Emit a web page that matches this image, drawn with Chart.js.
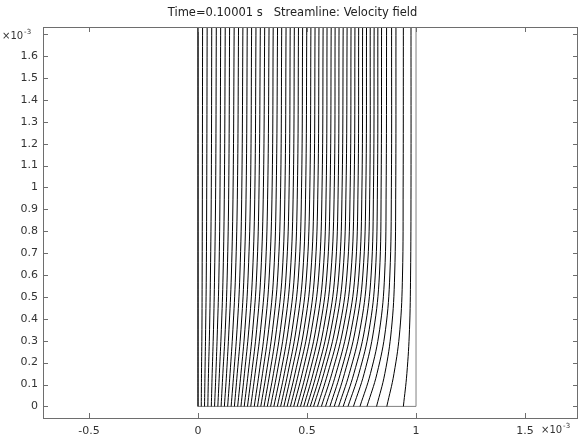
<!DOCTYPE html>
<html>
<head>
<meta charset="utf-8">
<script src="https://cdn.jsdelivr.net/npm/chart.js@4/dist/chart.umd.min.js"></script>
<style>
  html, body { margin: 0; padding: 0; background: #fff; }
  #wrap { width: 585px; height: 434px; }
</style>
</head>
<body>
<div id="wrap"><canvas id="chart" width="585" height="434"></canvas></div>
<script>
// all lengths in units of 1e-3
const levelY = [0, 0.15, 0.35, 0.6, 1.0, 1.75];

const xAtBottom = [0, 0.015, 0.030, 0.045, 0.061, 0.076, 0.091, 0.106, 0.121, 0.136, 0.152, 0.167, 0.182, 0.197, 0.212, 0.227, 0.242, 0.258, 0.273, 0.288, 0.303, 0.318, 0.333, 0.348, 0.364, 0.379, 0.394, 0.409, 0.424, 0.439, 0.455, 0.470, 0.485, 0.500, 0.515, 0.530, 0.548, 0.566, 0.585, 0.605, 0.625, 0.645, 0.666, 0.688, 0.713, 0.743, 0.775, 0.819, 0.866, 0.942];
const xAt015 = [0, 0.016, 0.032, 0.048, 0.065, 0.082, 0.098, 0.114, 0.131, 0.147, 0.164, 0.180, 0.197, 0.213, 0.230, 0.246, 0.262, 0.280, 0.296, 0.313, 0.329, 0.346, 0.362, 0.379, 0.396, 0.412, 0.428, 0.445, 0.461, 0.478, 0.495, 0.511, 0.528, 0.544, 0.561, 0.577, 0.595, 0.614, 0.633, 0.653, 0.672, 0.694, 0.715, 0.738, 0.762, 0.791, 0.821, 0.857, 0.899, 0.958];
const xAt035 = [0, 0.018, 0.035, 0.053, 0.071, 0.089, 0.107, 0.125, 0.142, 0.160, 0.179, 0.197, 0.215, 0.233, 0.251, 0.269, 0.287, 0.306, 0.324, 0.342, 0.360, 0.378, 0.396, 0.414, 0.432, 0.450, 0.468, 0.486, 0.504, 0.521, 0.540, 0.557, 0.575, 0.593, 0.610, 0.628, 0.647, 0.665, 0.684, 0.703, 0.722, 0.743, 0.764, 0.785, 0.806, 0.833, 0.860, 0.887, 0.926, 0.970];
const xAt060 = [0, 0.019, 0.038, 0.057, 0.076, 0.096, 0.115, 0.134, 0.153, 0.172, 0.192, 0.211, 0.230, 0.250, 0.269, 0.288, 0.308, 0.327, 0.347, 0.366, 0.386, 0.404, 0.423, 0.442, 0.461, 0.480, 0.498, 0.517, 0.535, 0.554, 0.573, 0.591, 0.609, 0.628, 0.646, 0.664, 0.683, 0.701, 0.720, 0.738, 0.756, 0.775, 0.794, 0.813, 0.832, 0.856, 0.880, 0.902, 0.938, 0.975];
const xAt100 = [0, 0.020, 0.040, 0.061, 0.081, 0.101, 0.121, 0.141, 0.161, 0.181, 0.201, 0.221, 0.241, 0.261, 0.280, 0.300, 0.320, 0.340, 0.359, 0.379, 0.399, 0.418, 0.437, 0.456, 0.475, 0.494, 0.513, 0.532, 0.550, 0.569, 0.588, 0.606, 0.625, 0.643, 0.661, 0.679, 0.698, 0.716, 0.734, 0.752, 0.770, 0.788, 0.805, 0.823, 0.840, 0.863, 0.887, 0.907, 0.941, 0.977];
const xAtTop = [0, 0.021, 0.042, 0.063, 0.084, 0.104, 0.125, 0.145, 0.166, 0.186, 0.206, 0.226, 0.246, 0.266, 0.286, 0.306, 0.326, 0.345, 0.365, 0.384, 0.404, 0.423, 0.442, 0.461, 0.480, 0.499, 0.518, 0.537, 0.555, 0.574, 0.592, 0.611, 0.629, 0.647, 0.666, 0.684, 0.702, 0.720, 0.737, 0.755, 0.773, 0.790, 0.808, 0.825, 0.842, 0.865, 0.888, 0.908, 0.942, 0.977];

const domainX = [0, 0, 1, 1];
const domainY = [1.75, 0, 0, 1.75];

const xTicks = [-0.5, 0, 0.5, 1, 1.5];
const yTicks = [0, 0.1, 0.2, 0.3, 0.4, 0.5, 0.6, 0.7, 0.8, 0.9, 1, 1.1, 1.2, 1.3, 1.4, 1.5, 1.6, 1.7];

const titleText = 'Time=0.10001 s   Streamline: Velocity field';
const FONT = '"DejaVu Sans", sans-serif';
const frameColor = '#6e6e6e';

const columns = [xAtBottom, xAt015, xAt035, xAt060, xAt100, xAtTop];

const datasets = xAtBottom.map((_, i) => ({
  data: levelY.map((y, k) => ({ x: columns[k][i], y: y })),
  borderColor: '#000',
  borderWidth: 1,
  pointRadius: 0,
  tension: 0.4,
  showLine: true
}));

datasets.push({
  data: domainX.map((x, k) => ({ x: x, y: domainY[k] })),
  borderColor: '#808080',
  borderWidth: 1,
  pointRadius: 0,
  tension: 0,
  showLine: true
});

const frame = {
  id: 'frame',
  afterDraw(chart) {
    const ctx = chart.ctx;
    const a = chart.chartArea;
    const xs = chart.scales.x, ys = chart.scales.y;
    ctx.save();
    ctx.strokeStyle = frameColor;
    ctx.lineWidth = 1;
    ctx.strokeRect(a.left + 0.5, a.top + 0.5, a.right - a.left - 1, a.bottom - a.top);
    ctx.beginPath();
    xTicks.forEach(v => {
      const px = Math.round(xs.getPixelForValue(v)) + 0.5;
      ctx.moveTo(px, a.bottom); ctx.lineTo(px, a.bottom - 5);
      ctx.moveTo(px, a.top); ctx.lineTo(px, a.top + 5);
    });
    yTicks.forEach(v => {
      const py = Math.round(ys.getPixelForValue(v)) + 0.5;
      ctx.moveTo(a.left, py); ctx.lineTo(a.left + 5, py);
      ctx.moveTo(a.right, py); ctx.lineTo(a.right - 5, py);
    });
    ctx.stroke();

    ctx.fillStyle = '#222';
    ctx.font = '11.5px ' + FONT;
    ctx.textAlign = 'center';
    ctx.textBaseline = 'middle';
    ctx.fillText(titleText, chart.width / 2, 13);

    // exponent labels
    ctx.fillStyle = '#333';
    const exp = (x, y) => {
      ctx.textAlign = 'left';
      ctx.textBaseline = 'alphabetic';
      ctx.font = '10px ' + FONT;
      ctx.fillText('\u00d710', x, y);
      const w = ctx.measureText('\u00d710').width;
      ctx.font = '7px ' + FONT;
      ctx.fillText('-3', x + w + 1, y - 5);
    };
    exp(2, ys.getPixelForValue(1.7) + 5);
    exp(541, 433);
    ctx.restore();
  }
};

new Chart(document.getElementById('chart'), {
  type: 'scatter',
  data: { datasets: datasets },
  options: {
    responsive: false,
    animation: false,
    events: [],
    layout: { padding: { top: 27, right: 7, left: 0, bottom: 0 } },
    plugins: { legend: { display: false }, tooltip: { enabled: false }, title: { display: false } },
    scales: {
      x: {
        type: 'linear',
        min: -0.711,
        max: 1.743,
        afterBuildTicks: s => { s.ticks = xTicks.map(v => ({ value: v })); },
        afterFit: s => { s.height = 16; },
        grid: { display: false, drawTicks: false },
        border: { display: false },
        ticks: {
          autoSkip: false,
          maxRotation: 0,
          padding: 7,
          color: '#333',
          font: { family: FONT, size: 11 },
          callback: v => String(+v.toFixed(2))
        }
      },
      y: {
        type: 'linear',
        min: -0.053,
        max: 1.733,
        afterBuildTicks: s => { s.ticks = yTicks.map(v => ({ value: v })); },
        afterFit: s => { s.width = 43; },
        grid: { display: false, drawTicks: false },
        border: { display: false },
        ticks: {
          autoSkip: false,
          padding: 5,
          color: '#333',
          font: { family: FONT, size: 11 },
          callback: v => (Math.abs(v - 1.7) < 1e-6 ? '' : String(+v.toFixed(2)))
        }
      }
    }
  },
  plugins: [frame]
});
</script>
</body>
</html>
